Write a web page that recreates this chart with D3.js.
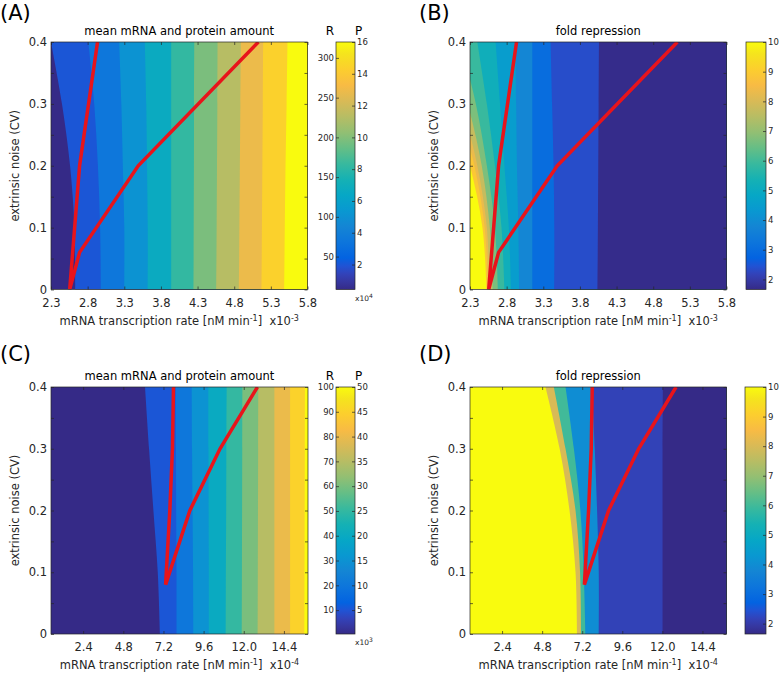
<!DOCTYPE html>
<html>
<head>
<meta charset="utf-8">
<script src="https://cdn.jsdelivr.net/npm/d3@7"></script>
<style>
body { margin: 0; background: #fff; }
svg { display: block; font-family: "DejaVu Sans", sans-serif; }
</style>
</head>
<body>
<svg width="784" height="673"></svg>
<script>
// extrinsic noise levels at which the band edges were read
const cvGrid = [0, 0.1, 0.2, 0.3, 0.4];
const cvTicks = [0, 0.05, 0.1, 0.15, 0.2, 0.25, 0.3, 0.35, 0.4];

// transcription rate ticks
const rateTicksAB = [2.3, 2.8, 3.3, 3.8, 4.3, 4.8, 5.3, 5.8];   // x10^-3
const rateTicksCD = [2.4, 4.8, 7.2, 9.6, 12.0, 14.4];            // x10^-4

// (A) mean protein amount, one value per band (x10^4)
const levelsA = [0.43, 2.0, 3.5, 5.1, 6.7, 8.2, 9.8, 11.3, 12.9, 14.4, 16];
// band edges: rate at each cvGrid value
const edgesA = [
    [2.63, 2.62, 2.56, 2.45, 2.30],
    [2.98, 2.97, 2.94, 2.89, 2.81],
    [3.30, 3.30, 3.28, 3.26, 3.23],
    [3.62, 3.62, 3.61, 3.60, 3.58],
    [3.94, 3.94, 3.94, 3.94, 3.94],
    [4.245, 4.247, 4.25, 4.252, 4.255],
    [4.555, 4.56, 4.565, 4.57, 4.573],
    [4.864, 4.87, 4.877, 4.884, 4.891],
    [5.173, 5.178, 5.184, 5.19, 5.195],
    [5.482, 5.49, 5.50, 5.515, 5.527]
];

// (B) fold repression
const levelsB = [10, 8.9, 8.3, 7.7, 6.7, 5.9, 5.2, 4.5, 3.8, 3.0, 2.35, 1.7];
const edgesB = [
    [2.525, 2.47, 2.30, 2.05, 1.75],
    [2.546, 2.50, 2.36, 2.12, 1.85],
    [2.567, 2.53, 2.40, 2.19, 1.95],
    [2.61, 2.57, 2.46, 2.27, 2.02],
    [2.68, 2.64, 2.53, 2.38, 2.17],
    [2.77, 2.73, 2.64, 2.53, 2.40],
    [2.86, 2.83, 2.77, 2.71, 2.65],
    [2.97, 2.96, 2.94, 2.93, 2.92],
    [3.15, 3.15, 3.15, 3.15, 3.15],
    [3.45, 3.45, 3.44, 3.42, 3.40],
    [4.04, 4.045, 4.05, 4.055, 4.06]
];

// (C) mean protein amount (x10^3)
const levelsC = [0.2, 5.2, 10.1, 15.1, 20.1, 25.1, 30.1, 35.0, 40.0, 45.0, 50];
const edgesC = [
    [6.99, 6.86, 6.60, 6.34, 6.10],
    [7.99, 7.98, 7.96, 7.95, 7.93],
    [8.99, 8.97, 8.94, 8.91, 8.89],
    [9.92, 9.91, 9.90, 9.89, 9.88],
    [10.92, 10.93, 10.95, 10.96, 10.98],
    [11.88, 11.89, 11.90, 11.91, 11.92],
    [12.83, 12.84, 12.85, 12.86, 12.87],
    [13.83, 13.83, 13.83, 13.83, 13.83],
    [14.77, 14.77, 14.77, 14.77, 14.77],
    [15.62, 15.63, 15.64, 15.65, 15.66]
];

// (D) fold repression
const levelsD = [10, 8.0, 6.0, 4.0, 2.15, 1.65];
const edgesD = [
    [6.89, 6.80, 6.44, 5.85, 5.00],
    [7.13, 7.07, 6.80, 6.20, 5.50],
    [7.39, 7.29, 7.09, 6.70, 6.20],
    [8.19, 8.19, 8.09, 7.95, 7.79],
    [12.01, 12.01, 12.01, 12.01, 12.03]
];

// red switching lines [rate, cv]
const switchLowAB = [[2.555, 0], [2.69, 0.2], [2.935, 0.4]];
const switchHighAB = [[2.555, 0], [2.69, 0.06], [3.49, 0.2], [5.13, 0.4]];
const switchLowCD = [[7.33, 0.08], [7.58, 0.2], [7.74, 0.3], [7.80, 0.4]];
const switchHighCD = [[7.33, 0.08], [8.78, 0.2], [10.58, 0.3], [12.82, 0.4]];

// colorbar ticks
const protTicksA = [2, 4, 6, 8, 10, 12, 14, 16];
const mrnaTicksA = [50, 100, 150, 200, 250, 300];
const foldTicks = [2, 3, 4, 5, 6, 7, 8, 9, 10];
const protTicksC = [5, 10, 15, 20, 25, 30, 35, 40, 45, 50];
const mrnaTicksC = [10, 20, 30, 40, 50, 60, 70, 80, 90, 100];

// parula colormap
const parulaHex = ["#352a87", "#3637a0", "#3243ba", "#2053d4", "#0363e1", "#0d75dc", "#1485d4",
    "#0998d1", "#06a7c6", "#15b1b4", "#38b99e", "#65be86", "#92bf73", "#b7bd64", "#d9ba56",
    "#f8bb44", "#fcce2e", "#f5e41d", "#f9fb0e"];
const parulaPos = [0, 2, 4, 6, 8, 12, 16, 20, 24, 28, 32, 36, 40, 44, 48, 52, 56, 60, 63].map(i => i / 63);
const parula = d3.scaleLinear().domain(parulaPos).range(parulaHex).clamp(true);

const svg = d3.select("svg");
const ink = "#262626";

const panels = [
    { id: "A", tag: "(A)", tagX: 0, tagY: 19.5, title: "mean mRNA and protein amount",
      left: 51, right: 307.5, top: 42, bottom: 289.5, xDomain: [2.3, 5.8], xTicks: rateTicksAB, xExp: "-3",
      levels: levelsA, edges: edgesA, low: switchLowAB, high: switchHighAB,
      cb: { left: 336, right: 355, domain: [0.43, 16], ticks: protTicksA, rDomain: [8.6, 320], rTicks: mrnaTicksA, exp: "4" } },
    { id: "B", tag: "(B)", tagX: 419, tagY: 19.5, title: "fold repression",
      left: 470, right: 726.5, top: 42, bottom: 289.5, xDomain: [2.3, 5.8], xTicks: rateTicksAB, xExp: "-3",
      levels: levelsB, edges: edgesB, low: switchLowAB, high: switchHighAB,
      cb: { left: 746, right: 766, domain: [1.66, 10], ticks: foldTicks } },
    { id: "C", tag: "(C)", tagX: 0, tagY: 361, title: "mean mRNA and protein amount",
      left: 51, right: 308, top: 387, bottom: 634, xDomain: [0.48, 15.84], xTicks: rateTicksCD, xExp: "-4",
      levels: levelsC, edges: edgesC, low: switchLowCD, high: switchHighCD,
      cb: { left: 336, right: 355, domain: [0.18, 50], ticks: protTicksC, rDomain: [0.36, 100], rTicks: mrnaTicksC, exp: "3" } },
    { id: "D", tag: "(D)", tagX: 419, tagY: 361, title: "fold repression",
      left: 470, right: 726.5, top: 387, bottom: 634, xDomain: [0.48, 15.84], xTicks: rateTicksCD, xExp: "-4",
      levels: levelsD, edges: edgesD, low: switchLowCD, high: switchHighCD,
      cb: { left: 745, right: 766, domain: [1.65, 10], ticks: foldTicks } }
];

// vertical gradient for the colorbars
const grad = svg.append("defs").append("linearGradient")
    .attr("id", "parulaGrad")
    .attr("x1", 0).attr("y1", 1).attr("x2", 0).attr("y2", 0);
grad.selectAll("stop").data(parulaPos).enter().append("stop")
    .attr("offset", d => d)
    .attr("stop-color", (d, i) => parulaHex[i]);

panels.forEach(drawPanel);

function drawPanel(p) {
    const g = svg.append("g");
    const x = d3.scaleLinear().domain(p.xDomain).range([p.left, p.right]);
    const y = d3.scaleLinear().domain([0, 0.4]).range([p.bottom, p.top]);
    const [cMin, cMax] = p.cb.domain;
    const color = v => parula((v - cMin) / (cMax - cMin));

    svg.select("defs").append("clipPath").attr("id", "clip" + p.id)
        .append("rect")
        .attr("x", p.left).attr("y", p.top)
        .attr("width", p.right - p.left).attr("height", p.bottom - p.top);

    const plot = g.append("g").attr("clip-path", `url(#clip${p.id})`);

    // filled contour bands, drawn left to right
    plot.append("rect")
        .attr("x", p.left).attr("y", p.top)
        .attr("width", p.right - p.left).attr("height", p.bottom - p.top)
        .attr("fill", color(p.levels[0]));

    const edgeLine = d3.line()
        .x(d => x(d[0]))
        .y(d => y(d[1]))
        .curve(d3.curveCatmullRom);

    p.edges.forEach((edge, i) => {
        const pts = edge.map((v, j) => [v, cvGrid[j]]);
        const d = edgeLine(pts) + `L${p.right + 5},${y(0.4)}L${p.right + 5},${y(0)}Z`;
        plot.append("path")
            .attr("d", d)
            .attr("fill", color(p.levels[i + 1]));
    });

    // switching curves
    const redLine = d3.line().x(d => x(d[0])).y(d => y(d[1]));
    plot.append("path")
        .attr("d", redLine(p.low.slice().reverse().concat(p.high.slice(1))))
        .attr("fill", "none")
        .attr("stroke", "#e8141b")
        .attr("stroke-width", 3.5)
        .attr("stroke-linejoin", "miter");

    // axes, ticks pointing inward
    const yFmt = d => (Math.round(d * 100) % 10 === 0) ? (d === 0 ? "0" : d.toFixed(1)) : "";
    const axL = g.append("g").attr("transform", `translate(${p.left},0)`)
        .call(d3.axisLeft(y).tickValues(cvTicks).tickSize(-3).tickPadding(4).tickFormat(yFmt));
    const axR = g.append("g").attr("transform", `translate(${p.right},0)`)
        .call(d3.axisRight(y).tickValues(cvTicks).tickSize(-3).tickFormat(""));
    const axB = g.append("g").attr("transform", `translate(0,${p.bottom})`)
        .call(d3.axisBottom(x).tickValues(p.xTicks).tickSize(-3).tickPadding(9).tickFormat(d => d.toFixed(1)));
    const axT = g.append("g").attr("transform", `translate(0,${p.top})`)
        .call(d3.axisTop(x).tickValues(p.xTicks).tickSize(-3).tickFormat(""));

    [axL, axR, axB, axT].forEach(a => {
        a.select(".domain").remove();
        a.selectAll(".tick line").attr("stroke", ink).attr("stroke-width", 0.7);
        a.selectAll("text").attr("font-size", 11.5).attr("fill", ink)
            .attr("font-family", "DejaVu Sans, sans-serif");
    });

    g.append("rect")
        .attr("x", p.left).attr("y", p.top)
        .attr("width", p.right - p.left).attr("height", p.bottom - p.top)
        .attr("fill", "none").attr("stroke", ink).attr("stroke-width", 0.7);

    // labels
    svg.append("text")
        .attr("x", p.tagX).attr("y", p.tagY)
        .attr("font-size", 21).attr("fill", "#000")
        .text(p.tag);

    g.append("text")
        .attr("x", (p.left + p.right) / 2).attr("y", p.top - 7)
        .attr("text-anchor", "middle").attr("font-size", 11.5).attr("fill", "#000")
        .text(p.title);

    g.append("text")
        .attr("transform", `translate(${p.left - 32},${(p.top + p.bottom) / 2}) rotate(-90)`)
        .attr("text-anchor", "middle").attr("font-size", 11.5).attr("fill", ink)
        .text("extrinsic noise (CV)");

    const xl = g.append("text")
        .attr("x", (p.left + p.right) / 2).attr("y", p.bottom + 35)
        .attr("text-anchor", "middle").attr("font-size", 11.5).attr("fill", ink)
        .style("white-space", "pre");
    xl.append("tspan").text("mRNA transcription rate [nM min");
    xl.append("tspan").attr("dy", -4).attr("font-size", 8).text("-1");
    xl.append("tspan").attr("dy", 4).text("]  x10");
    xl.append("tspan").attr("dy", -4).attr("font-size", 8).text(p.xExp);

    drawColorbar(p, g);
}

function drawColorbar(p, g) {
    const cb = p.cb;
    const s = d3.scaleLinear().domain(cb.domain).range([p.bottom, p.top]);

    g.append("rect")
        .attr("x", cb.left).attr("y", p.top)
        .attr("width", cb.right - cb.left).attr("height", p.bottom - p.top)
        .attr("fill", "url(#parulaGrad)")
        .attr("stroke", ink).attr("stroke-width", 0.7);

    const axes = [];
    axes.push(g.append("g").attr("transform", `translate(${cb.right},0)`)
        .call(d3.axisRight(s).tickValues(cb.ticks).tickSize(-3).tickPadding(2)));

    if (cb.rDomain) {
        const r = d3.scaleLinear().domain(cb.rDomain).range([p.bottom, p.top]);
        axes.push(g.append("g").attr("transform", `translate(${cb.left},0)`)
            .call(d3.axisLeft(r).tickValues(cb.rTicks).tickSize(-3).tickPadding(2)));

        g.append("text")
            .attr("x", cb.left - 6).attr("y", p.top - 7)
            .attr("text-anchor", "middle").attr("font-size", 12).attr("fill", "#000")
            .text("R");
        g.append("text")
            .attr("x", cb.right + 3.5).attr("y", p.top - 7)
            .attr("text-anchor", "middle").attr("font-size", 12).attr("fill", "#000")
            .text("P");

        const ex = g.append("text")
            .attr("x", cb.right).attr("y", p.bottom + 11)
            .attr("font-size", 7.5).attr("fill", ink);
        ex.append("tspan").text("x10");
        ex.append("tspan").attr("dy", -3).attr("font-size", 6).text(cb.exp);
    }

    axes.forEach(a => {
        a.select(".domain").remove();
        a.selectAll(".tick line").attr("stroke", ink).attr("stroke-width", 0.7);
        a.selectAll("text").attr("font-size", 8.5).attr("fill", ink)
            .attr("font-family", "DejaVu Sans, sans-serif");
    });
}
</script>
</body>
</html>
